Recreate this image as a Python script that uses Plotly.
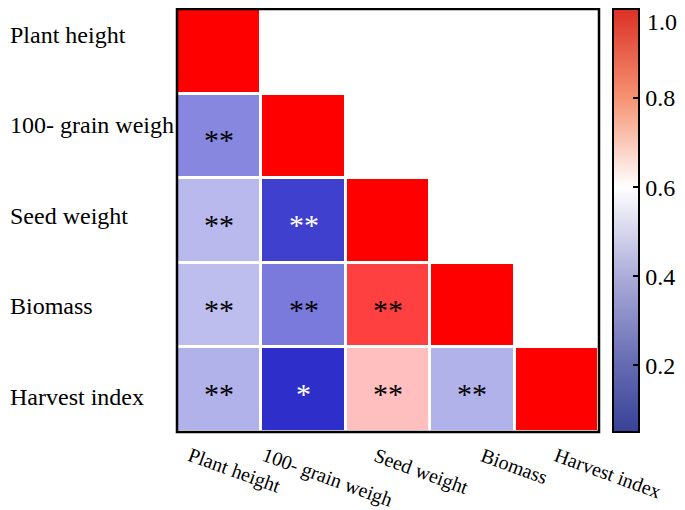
import plotly.graph_objects as go

# ---------------- data ----------------
traits = ["Plant height", "100- grain weigh", "Seed weight", "Biomass", "Harvest index"]

# lower-triangle correlation values (row i, columns 0..i)
row_plant_height = [1.00]
row_grain_weight = [0.32, 1.00]
row_seed_weight = [0.436, 0.153, 1.00]
row_biomass = [0.448, 0.289, 0.90, 1.00]
row_harvest_index = [0.42, 0.11, 0.70, 0.42, 1.00]

sig_plant_height = [""]
sig_grain_weight = ["**", ""]
sig_seed_weight = ["**", "**", ""]
sig_biomass = ["**", "**", "**", ""]
sig_harvest_index = ["**", "*", "**", "**", ""]

cbar_ticks = [0.2, 0.4, 0.6, 0.8, 1.0]
zmin, zmax = 0.05, 1.0

rows = [row_plant_height, row_grain_weight, row_seed_weight, row_biomass, row_harvest_index]
sigs = [sig_plant_height, sig_grain_weight, sig_seed_weight, sig_biomass, sig_harvest_index]
n = len(traits)
z = [[(r[j] if j < len(r) else None) for j in range(n)] for r in rows]

FONT = "Liberation Serif"
white_pos = (0.6 - zmin) / (zmax - zmin)

cell_scale = [
    [0.0, "rgb(20,20,195)"],
    [white_pos, "rgb(255,255,255)"],
    [1.0, "rgb(255,0,0)"],
]
bar_scale = [
    [0.0, "rgb(55,65,150)"],
    [(0.2 - zmin) / (zmax - zmin), "rgb(100,106,178)"],
    [(0.4 - zmin) / (zmax - zmin), "rgb(172,172,218)"],
    [white_pos, "rgb(255,255,255)"],
    [(0.8 - zmin) / (zmax - zmin), "rgb(246,146,114)"],
    [1.0, "rgb(220,48,38)"],
]

CB_X = 1.032          # colorbar left edge (paper fraction)
CB_THICK = 26         # px
PLOT_W = 677 - 169 - 86

inner_ticks = [v for v in cbar_ticks if v < zmax]
top_ticks = [v for v in cbar_ticks if v >= zmax]

fig = go.Figure()
fig.add_trace(go.Heatmap(
    z=z, x=list(range(n)), y=list(range(n)),
    colorscale=cell_scale, zmin=zmin, zmax=zmax,
    xgap=3, ygap=3, showscale=False, hoverongaps=False,
))
# colorbar (separate styled scale)
fig.add_trace(go.Scatter(
    x=[None], y=[None], mode="markers", showlegend=False,
    marker=dict(color=[0.5], colorscale=bar_scale, cmin=zmin, cmax=zmax, showscale=True,
                colorbar=dict(
                    x=CB_X, xanchor="left", y=0.5, yanchor="middle", len=1.0, lenmode="fraction",
                    thickness=CB_THICK, outlinewidth=2, outlinecolor="black", ypad=0, xpad=0,
                    tickvals=inner_ticks, ticktext=[f"{v:.1f}" for v in inner_ticks],
                    ticks="inside", ticklen=7, tickwidth=2, tickcolor="black",
                    tickfont=dict(family=FONT, size=24, color="black"),
                )),
))

annotations = []
for i, srow in enumerate(sigs):
    for j, s in enumerate(srow):
        if s:
            v = rows[i][j]
            annotations.append(dict(
                x=j, y=i, xref="x", yref="y", text=s, showarrow=False, yshift=-4,
                font=dict(family=FONT, size=30, color="white" if v < 0.25 else "black"),
            ))
# y labels (left aligned)
for i, t in enumerate(traits):
    annotations.append(dict(
        x=0, xref="paper", xanchor="left", xshift=-169, y=i, yref="y2", yanchor="middle",
        text=t, showarrow=False, font=dict(family=FONT, size=24, color="black"),
    ))
# x labels (rotated)
for j, t in enumerate(traits):
    annotations.append(dict(
        x=j, xref="x", xanchor="center", xshift=15 + 9 * j, y=0, yref="paper", yanchor="top", yshift=-9,
        text=t, textangle=20, showarrow=False, font=dict(family=FONT, size=20, color="black"),
    ))
# top colorbar label, kept inside the page
for v in top_ticks:
    annotations.append(dict(
        x=CB_X, xref="paper", xanchor="left", xshift=CB_THICK + 7, y=1, yref="paper", yanchor="top",
        yshift=1, text=f"{v:.1f}", showarrow=False, borderpad=0,
        font=dict(family=FONT, size=24, color="black"),
    ))

shapes = [dict(type="rect", xref="paper", yref="paper", x0=0, x1=1, y0=0, y1=1,
               line=dict(color="black", width=2.5), layer="above")]
# left-side tick dashes on the colorbar
for v in inner_ticks:
    yy = (v - zmin) / (zmax - zmin)
    shapes.append(dict(type="line", xref="paper", yref="paper", x0=CB_X, x1=CB_X + 7 / PLOT_W,
                       y0=yy, y1=yy, line=dict(color="black", width=2)))

# the page adds an 8px body margin, so the figure is sized/offset to compensate
fig.update_layout(
    width=677, height=502,
    margin=dict(l=169, r=86, t=1, b=78, autoexpand=False),
    paper_bgcolor="white", plot_bgcolor="white",
    xaxis=dict(range=[-0.5, n - 0.5], showticklabels=False, showgrid=False, zeroline=False, ticks=""),
    yaxis=dict(range=[n - 0.5, -0.5], showticklabels=False, showgrid=False, zeroline=False, ticks=""),
    yaxis2=dict(overlaying="y", range=[4.387, -0.287], visible=False),
    annotations=annotations,
    shapes=shapes,
)

fig.write_html("out.html")
